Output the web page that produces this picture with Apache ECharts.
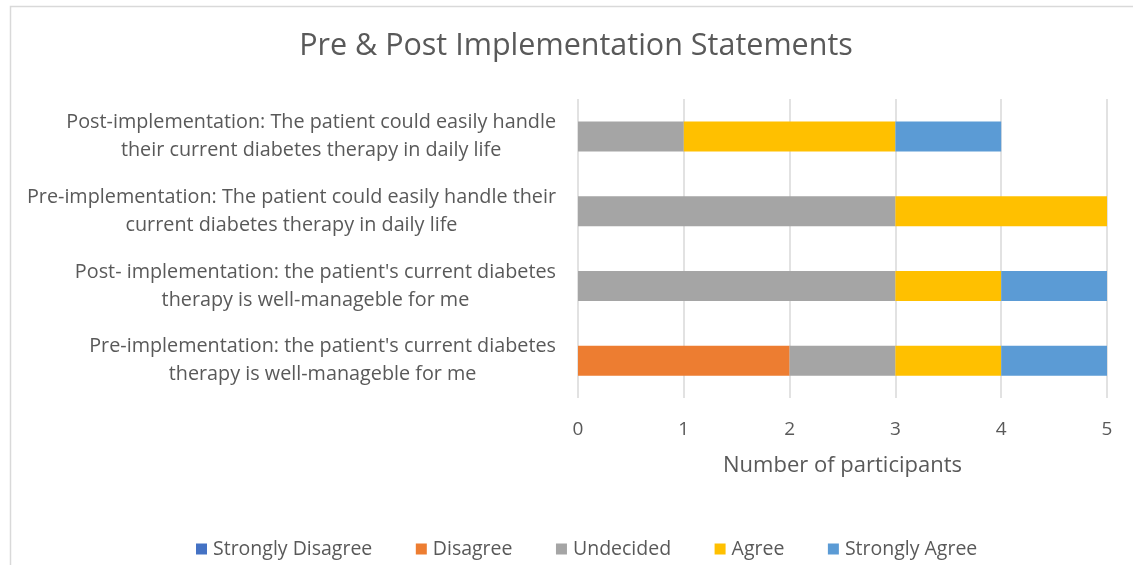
<!DOCTYPE html>
<html>
<head>
<meta charset="utf-8">
<script src="https://cdn.jsdelivr.net/npm/echarts@6/dist/echarts.min.js"></script>
<style>
html,body{margin:0;padding:0;background:#fff;}
#chart{width:1133px;height:565px;}
</style>
</head>
<body>
<div id="chart"></div>
<script>
const categories = [
  "Pre-implementation: the patient's current diabetes\ntherapy is well-manageble for me",
  "Post- implementation: the patient's current diabetes\ntherapy is well-manageble for me",
  "Pre-implementation: The patient could easily handle their\ncurrent diabetes therapy in daily life",
  "Post-implementation: The patient could easily handle\ntheir current diabetes therapy in daily life"
];
const seriesNames = ["Strongly Disagree", "Disagree", "Undecided", "Agree", "Strongly Agree"];
const stronglyDisagree = [0, 0, 0, 0];
const disagree = [2, 0, 0, 0];
const undecided = [1, 3, 3, 1];
const agree = [1, 1, 2, 2];
const stronglyAgree = [1, 1, 0, 1];
const xTicks = [0, 1, 2, 3, 4, 5];
const colors = ["#4472C4", "#ED7D31", "#A5A5A5", "#FFC000", "#5B9BD5"];

const FONT = '"Open Sans", "Liberation Sans", Arial, sans-serif';
const TXT = '#595959';
const values = [stronglyDisagree, disagree, undecided, agree, stronglyAgree];

const chart = echarts.init(document.getElementById('chart'), null, {renderer: 'canvas'});
chart.setOption({
  animation: false,
  backgroundColor: '#fff',
  textStyle: {fontFamily: FONT, color: TXT},
  color: colors,
  graphic: [{
    type: 'rect', silent: true, z: -1,
    shape: {x: 10.5, y: 6.5, width: 1200, height: 700},
    style: {fill: 'none', stroke: '#d9d9d9', lineWidth: 1.5}
  }],
  title: {
    text: 'Pre & Post Implementation Statements',
    left: 571, top: 26, textAlign: 'center',
    textStyle: {fontFamily: FONT, fontSize: 30.5, fontWeight: 'normal', color: TXT}
  },
  legend: {
    bottom: 1, left: 191,
    itemWidth: 11, itemHeight: 11, itemGap: 43.5,
    icon: 'rect',
    textStyle: {fontFamily: FONT, fontSize: 19.5, color: TXT, padding: [0, 0, 0, 1]},
    data: seriesNames
  },
  grid: {left: 578, right: 26, top: 99, bottom: 167, containLabel: false},
  xAxis: {
    type: 'value', min: 0, max: 5, interval: 1,
    name: 'Number of participants', nameLocation: 'middle', nameGap: 57,
    nameTextStyle: {fontFamily: FONT, fontSize: 22, color: TXT},
    axisLine: {show: false}, axisTick: {show: false},
    axisLabel: {fontFamily: FONT, fontSize: 19, color: TXT, margin: 22,
      formatter: v => xTicks.includes(v) ? String(v) : ''},
    splitLine: {show: true, lineStyle: {color: '#d9d9d9', width: 1.5}}
  },
  yAxis: {
    type: 'category', data: categories,
    axisLine: {show: false}, axisTick: {show: false},
    axisLabel: {
      margin: 22, lineHeight: 28,
      formatter: v => v.split('\n').map(s => '{c|' + s + '}').join('\n'),
      rich: {c: {align: 'center', fontFamily: FONT, fontSize: 19.8, color: TXT, lineHeight: 28}}
    }
  },
  series: seriesNames.map((n, i) => ({
    name: n, type: 'bar', stack: 'total', barWidth: 30,
    data: values[i],
    itemStyle: {color: colors[i]}
  }))
});
</script>
</body>
</html>
